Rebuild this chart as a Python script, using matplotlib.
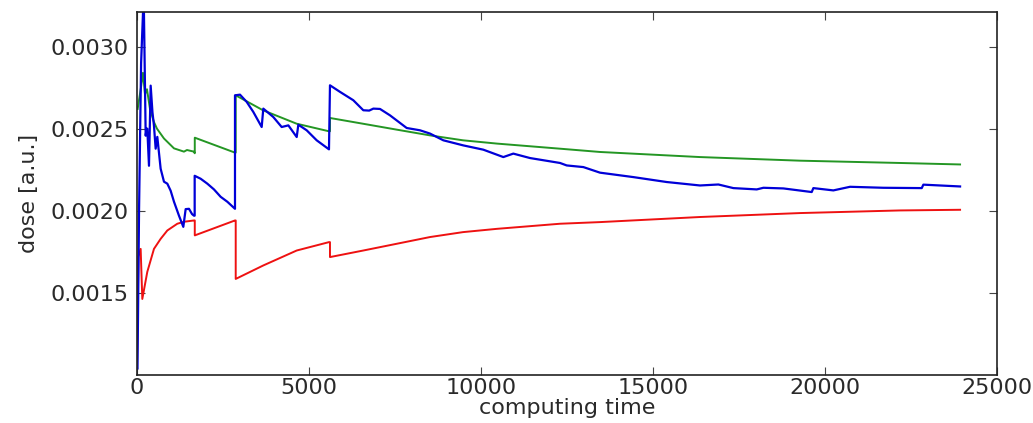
import numpy as np
import matplotlib
matplotlib.use("Agg")
import matplotlib.pyplot as plt

# upper estimate (green)
green_t = [20, 116, 174, 233, 291, 378, 494, 581, 785, 1076, 1366, 1453, 1657, 1680,
           1680, 2849, 2870,
           2870, 3663, 4643, 5581, 5610,
           5610, 6570, 7550, 8518, 9477, 10465, 12297, 13459, 16366, 19273, 22180, 23925]
green_d = [0.00262, 0.00275, 0.00284, 0.00271, 0.00274, 0.00262, 0.00254, 0.00250, 0.00244, 0.00238,
           0.00236, 0.00237, 0.00236, 0.00235,
           0.002445, 0.002354, 0.002354,
           0.002703, 0.002612, 0.00253, 0.002484, 0.002484,
           0.002565, 0.00253, 0.002494, 0.002459, 0.002429, 0.002409, 0.002378, 0.002358,
           0.002327, 0.002305, 0.002291, 0.002282]

# lower estimate (red)
red_t = [0, 40, 107, 155, 300, 494, 688, 882, 1172, 1366, 1657, 1680,
         1680, 2849, 2870,
         2870, 3672, 4643, 5581, 5610,
         5610, 6579, 7550, 8518, 9477, 10465, 12297, 13459, 16366, 19273, 22180, 23925]
red_d = [0.00105, 0.00172, 0.001768, 0.001463, 0.001628, 0.001768, 0.001829, 0.00188,
         0.001921, 0.001933, 0.001941, 0.001941,
         0.00185, 0.001941, 0.001941,
         0.001585, 0.001667, 0.001758, 0.001809, 0.001809,
         0.001718, 0.001758, 0.001799, 0.00184, 0.00187, 0.00189, 0.001921, 0.001931,
         0.001962, 0.001986, 0.002002, 0.002006]

# running estimate (blue)
blue_t = [15, 60, 120, 183, 203, 253, 280, 300, 349, 398, 450, 494, 543, 591, 688, 785, 882,
          979, 1076, 1221, 1347, 1415, 1512, 1600, 1657, 1677,
          1677, 1851, 2045, 2238, 2432, 2626, 2849,
          2849, 2994, 3189, 3381, 3625,
          3672, 3962, 4206, 4400, 4643,
          4690, 4933, 5224, 5581,
          5610, 5901, 6288, 6579, 6750, 6870, 7064, 7355, 7840, 8227, 8518, 8905, 9486,
          10067, 10649, 10939, 11425, 12297, 12491, 12975, 13459, 14428, 15398, 16366,
          16900, 17335, 18015, 18209, 18790, 19613,
          19661, 20242, 20727, 21695, 22811,
          22858, 23925]
blue_d = [0.00104, 0.00200, 0.00290, 0.00325, 0.00320, 0.002457, 0.00250, 0.00250, 0.002274,
          0.002762, 0.00260, 0.002518, 0.002378, 0.00245, 0.002256, 0.002177, 0.002165,
          0.002122, 0.002055, 0.00197, 0.001902, 0.00201, 0.002012, 0.00198, 0.00197, 0.00197,
          0.002213, 0.002195, 0.002165, 0.00213, 0.002085, 0.002055, 0.002012,
          0.002703, 0.002707, 0.002663, 0.002602, 0.00251,
          0.002622, 0.002571, 0.00251, 0.00252, 0.002449,
          0.002524, 0.00249, 0.002429, 0.002374,
          0.002764, 0.002724, 0.002673, 0.002612, 0.00261, 0.002622, 0.00262, 0.002581,
          0.002504, 0.00249, 0.00247, 0.002429, 0.002398,
          0.002372, 0.002327, 0.002348, 0.002321, 0.002291, 0.002276, 0.002266, 0.002232,
          0.002205, 0.002175, 0.002154,
          0.00216, 0.002138, 0.00213, 0.00214, 0.002136, 0.002114,
          0.002138, 0.002124, 0.002146, 0.00214, 0.002138,
          0.002159, 0.002148]

x_ticks = [0, 5000, 10000, 15000, 20000, 25000]
y_ticks = [0.0015, 0.0020, 0.0025, 0.0030]

plt.rcParams["font.family"] = ["DejaVu Sans"]
fig = plt.figure(figsize=(10.33, 4.23), dpi=100)
ax = fig.add_axes([0.1326, 0.1135, 0.8326, 0.858])

ax.plot(green_t, green_d, color="#249624", lw=1.4)
ax.plot(red_t, red_d, color="#ee1111", lw=1.4)
ax.plot(blue_t, blue_d, color="#0000d8", lw=1.6)

ax.set_xlim(0, 25000)
ax.set_ylim(0.001, 0.00321)
ax.set_xticks(x_ticks)
ax.set_yticks(y_ticks)
ax.set_xticklabels([str(v) for v in x_ticks])
ax.set_yticklabels(["%.4f" % v for v in y_ticks])
ax.tick_params(direction="in", length=6, width=0.8, top=True, right=True,
               labelsize=16, labelcolor="#2a2a2a", color="#444444")
ax.tick_params(axis="x", pad=2)
ax.tick_params(axis="y", pad=6)
for s in ax.spines.values():
    s.set_linewidth(1.2)
    s.set_color("#222222")

ax.set_xlabel("computing time", fontsize=16, color="#2a2a2a", labelpad=0)
ax.set_ylabel("dose [a.u.]", fontsize=16, color="#2a2a2a", labelpad=8)

fig.savefig("out.png", dpi=100)
